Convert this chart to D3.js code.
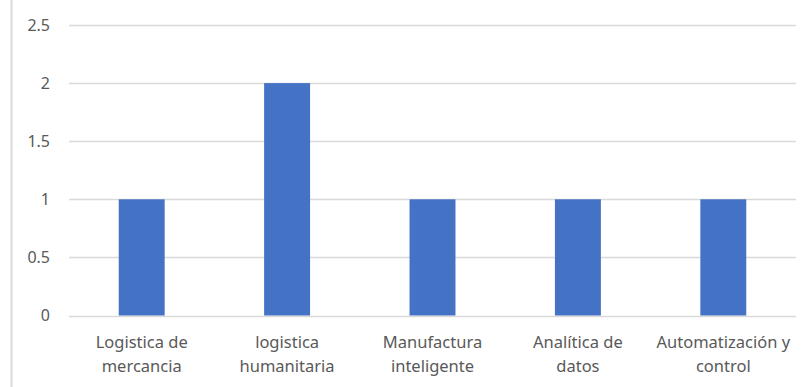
<!DOCTYPE html>
<html lang="es">
<head>
  <meta charset="UTF-8" />
  <script src="https://d3js.org/d3.v7.min.js"></script>
  <style>
    body { margin: 0; background: #fff; }
    svg { display: block; font-family: "Noto Sans", "Open Sans", sans-serif; }
  </style>
</head>
<body>
  <svg width="809" height="387"></svg>
  <script>
    const categories = [
      ["Logistica de", "mercancia"],
      ["logistica", "humanitaria"],
      ["Manufactura", "inteligente"],
      ["Analítica de", "datos"],
      ["Automatización y", "control"]
    ];
    const values = [1, 2, 1, 1, 1];
    const yTicks = [0, 0.5, 1, 1.5, 2, 2.5];

    const svg = d3.select("svg");
    const margin = { left: 69, right: 13, top: 25, bottom: 71.5 };
    const width = 809, height = 387;

    const x = d3.scaleBand()
      .domain(d3.range(categories.length))
      .range([margin.left, width - margin.right])
      .paddingInner(0.684)
      .paddingOuter(0.342);

    const y = d3.scaleLinear()
      .domain([0, 2.5])
      .range([height - margin.bottom, margin.top]);

    // left frame line
    svg.append("line")
      .attr("x1", 11.5).attr("x2", 11.5)
      .attr("y1", 0).attr("y2", height)
      .attr("stroke", "#d9d9d9").attr("stroke-width", 2);

    // gridlines
    svg.append("g")
      .selectAll("line")
      .data(yTicks)
      .join("line")
      .attr("x1", margin.left).attr("x2", width - margin.right)
      .attr("y1", d => Math.round(y(d)) + 0.5)
      .attr("y2", d => Math.round(y(d)) + 0.5)
      .attr("stroke", "#d9d9d9").attr("stroke-width", 1.5);

    // y tick labels
    svg.append("g")
      .selectAll("text")
      .data(yTicks)
      .join("text")
      .attr("x", 50)
      .attr("y", d => y(d))
      .attr("dy", "0.35em")
      .attr("text-anchor", "end")
      .attr("fill", "#595959")
      .style("font-size", "16px")
      .text(d => d);

    // bars
    svg.append("g")
      .selectAll("rect")
      .data(values)
      .join("rect")
      .attr("x", (d, i) => x(i))
      .attr("y", d => y(d))
      .attr("width", x.bandwidth())
      .attr("height", d => y(0) - y(d))
      .attr("fill", "#4472c4");

    // x category labels
    const lab = svg.append("g")
      .selectAll("text")
      .data(categories)
      .join("text")
      .attr("text-anchor", "middle")
      .attr("fill", "#595959")
      .style("font-size", "16.5px");

    lab.selectAll("tspan")
      .data((d, i) => d.map(t => ({ t, i })))
      .join("tspan")
      .attr("x", d => x(d.i) + x.bandwidth() / 2)
      .attr("y", (d, j) => 348 + j * 24)
      .text(d => d.t);
  </script>
</body>
</html>
